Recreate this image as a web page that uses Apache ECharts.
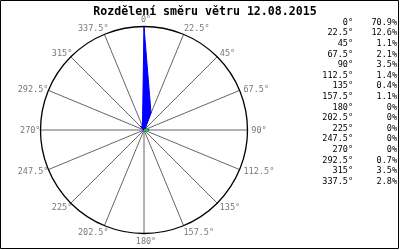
<!DOCTYPE html>
<html>
<head>
<meta charset="utf-8">
<script src="https://cdn.jsdelivr.net/npm/echarts@6/dist/echarts.min.js"></script>
<style>
html,body{margin:0;padding:0;background:#fff;}
#c{width:400px;height:250px;}
</style>
</head>
<body>
<div id="c"></div>
<script>
var titleText = 'Rozdělení směru větru 12.08.2015';
var directions = [0, 22.5, 45, 67.5, 90, 112.5, 135, 157.5, 180, 202.5, 225, 247.5, 270, 292.5, 315, 337.5];
var percents = [70.9, 12.6, 1.1, 2.1, 3.5, 1.4, 0.4, 1.1, 0, 0, 0, 0, 0, 0.7, 3.5, 2.8];
var greenDirections = [90, 90];
var greenValues = [0, 3];
var radiusMax = 71;

var FONT = 'DejaVu Sans Mono';
var LABEL_SIZE = 8.5;
var CHAR_W = LABEL_SIZE * 0.602;

var roseData = directions.map(function (d, i) { return [percents[i], d]; });
roseData.push([percents[0], 360]);
var greenData = greenDirections.map(function (d, i) { return [greenValues[i], d]; });

function fmtDeg(d) { return d + '°'; }
function fmtPct(p) { return (p === 0 ? '0' : p.toFixed(1)) + '%'; }

// direction labels placed just outside the circle
var labelData = directions.map(function (d) {
  var t = fmtDeg(d);
  var a = d * Math.PI / 180;
  var ux = Math.sin(a), c = Math.cos(a);
  var w = t.length * CHAR_W;
  var sgn = Math.abs(ux) < 0.05 ? 0 : (ux > 0 ? 1 : -1);
  var dx = sgn * ((w / 2) * (0.6 + 0.5 * Math.abs(ux)) + 1) + 2;
  var dy = -7.5 * c * Math.abs(c) + 0.8;
  return {
    value: [radiusMax, d],
    label: { position: [dx + 1, dy + 1] }
  };
});

var graphics = [{
  type: 'rect', shape: { x: 0.5, y: 0.5, width: 398, height: 248 },
  style: { fill: 'none', stroke: '#000', lineWidth: 1 }, z: 10
}];
directions.forEach(function (d, i) {
  var y = 22.5 + i * 10.6;
  graphics.push({ type: 'text', x: 353, y: y,
    style: { text: fmtDeg(d), font: LABEL_SIZE + 'px "' + FONT + '"', fill: '#000', align: 'right', verticalAlign: 'middle' } });
  graphics.push({ type: 'text', x: 397, y: y,
    style: { text: fmtPct(percents[i]), font: LABEL_SIZE + 'px "' + FONT + '"', fill: '#000', align: 'right', verticalAlign: 'middle' } });
});

var chart = echarts.init(document.getElementById('c'), null, { renderer: 'canvas' });
chart.setOption({
  animation: false,
  backgroundColor: '#fff',
  title: {
    text: titleText, left: 200, top: 1, textAlign: 'center',
    textStyle: { fontFamily: FONT, fontSize: 11.6, fontWeight: 'bold', color: '#000' }
  },
  polar: { center: [144, 130], radius: 103.5 },
  angleAxis: {
    type: 'value', min: 0, max: 360, interval: 22.5, startAngle: 90, clockwise: true,
    axisLine: { show: true, lineStyle: { color: '#000', width: 1.3 } },
    axisTick: { show: false },
    splitLine: { show: true, lineStyle: { color: '#666', width: 1 } },
    axisLabel: { show: false }
  },
  radiusAxis: {
    type: 'value', min: 0, max: radiusMax,
    axisLine: { show: false }, axisTick: { show: false }, axisLabel: { show: false }, splitLine: { show: false }
  },
  series: [{
    type: 'line', coordinateSystem: 'polar', data: roseData, showSymbol: false, symbol: 'none',
    lineStyle: { color: '#0000ff', width: 1 }, areaStyle: { color: '#0000ff', opacity: 1 }, z: 3
  }, {
    type: 'line', coordinateSystem: 'polar', data: greenData, showSymbol: false, symbol: 'none',
    lineStyle: { color: '#00dd00', width: 2 }, z: 4
  }, {
    type: 'scatter', coordinateSystem: 'polar', data: labelData, symbolSize: 2,
    itemStyle: { color: 'rgba(0,0,0,0)' }, silent: true, z: 5,
    label: {
      show: true, align: 'center', verticalAlign: 'middle',
      color: '#555', fontFamily: FONT, fontSize: LABEL_SIZE,
      formatter: function (p) { return fmtDeg(p.value[1]); }
    }
  }],
  graphic: graphics
});
</script>
</body>
</html>
